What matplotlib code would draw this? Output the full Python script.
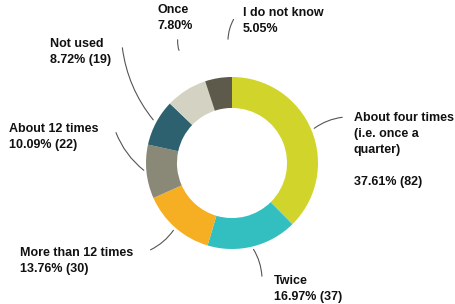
import matplotlib.pyplot as plt

# ---------------------------------------------------------------------------
# Data
# ---------------------------------------------------------------------------
labels = ["About four times\n(i.e. once a\nquarter)", "Twice", "More than 12 times",
          "About 12 times", "Not used", "Once", "I do not know"]
shares = [37.61, 16.97, 13.76, 10.09, 8.72, 7.80, 5.05]
counts = [82, 37, 30, 22, 19, None, None]
colors = ["#d1d52b", "#33bfc0", "#f6af22", "#8a8876", "#2e6170", "#d4d3c3", "#5d5a4b"]

plt.rcParams["font.family"] = ["Liberation Sans", "DejaVu Sans"]

W, H = 455, 304
fig = plt.figure(figsize=(W / 100, H / 100), dpi=100)
ax = fig.add_axes([0, 0, 1, 1])

cx, cy, R = 232, H - 163, 86
ax.pie(shares, colors=colors, startangle=90, counterclock=False,
       radius=R, center=(cx, cy), frame=True,
       wedgeprops=dict(width=R * 0.36, linewidth=0))
ax.set_xlim(0, W)
ax.set_ylim(0, H)
ax.axis("off")


def pct_text(i):
    s = f"{shares[i]:.2f}%"
    if counts[i] is not None:
        s += f" ({counts[i]})"
    return s


# label placement (pixel coords from top-left), leader start / end
layout = [
    (354, 112, (345, 117), (312, 130)),
    (274, 275, (262, 279), (252, 247)),
    (20, 247, (148, 251), (175, 228)),
    (9, 123, (115, 130), (146, 172)),
    (50, 38, (122, 45), (155, 122)),
    (157, 4, (178, 37), (180, 53)),
    (243, 7, (235, 17), (228, 42)),
]

txt = dict(fontsize=9, fontweight="bold", color="#111111", ha="left", va="top",
           linespacing=1.45)
for i, (tx, ty, p0, p1) in enumerate(layout):
    if i == 0:
        ax.text(tx, H - ty, labels[i], **txt)
        ax.text(tx, H - 176, pct_text(i), **txt)
    else:
        ax.text(tx, H - ty, labels[i] + "\n" + pct_text(i), **txt)
    ax.annotate("", xy=(p1[0], H - p1[1]), xytext=(p0[0], H - p0[1]),
                arrowprops=dict(arrowstyle="-", color="#555555", lw=0.8,
                                connectionstyle="arc3,rad=0.15"))

fig.savefig("out.png", dpi=100)
